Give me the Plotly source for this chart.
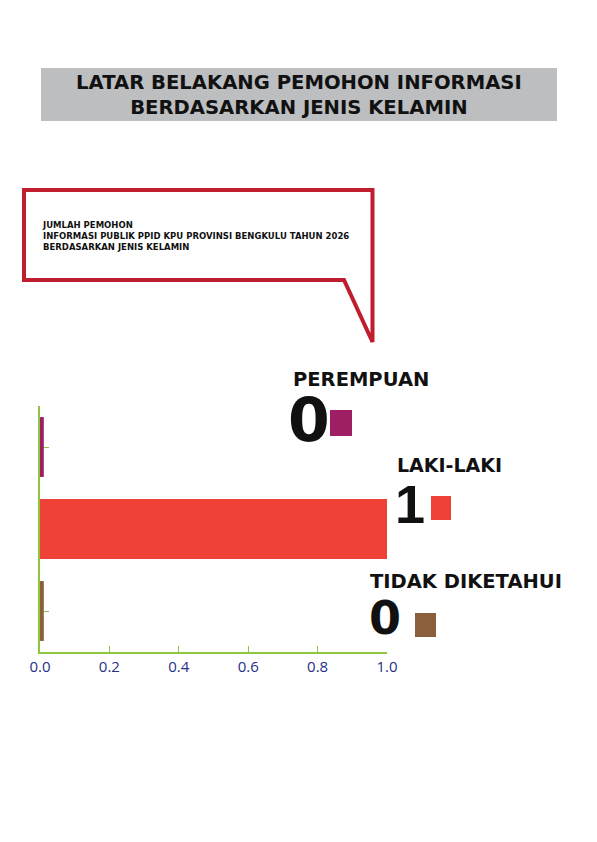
import plotly.graph_objects as go

# ---- data ----
categories = ["PEREMPUAN", "LAKI-LAKI", "TIDAK DIKETAHUI"]
values = [0, 1, 0]
colors = ["#9E1F63", "#EF4136", "#8B5E3C"]
tick_vals = [0.0, 0.2, 0.4, 0.6, 0.8, 1.0]
title_lines = ["LATAR BELAKANG PEMOHON INFORMASI", "BERDASARKAN JENIS KELAMIN"]
box_lines = ["JUMLAH PEMOHON",
             "INFORMASI PUBLIK PPID KPU PROVINSI BENGKULU TAHUN 2026",
             "BERDASARKAN JENIS KELAMIN"]

W, H = 597, 842
OFF = 8  # page body margin
L, R, T, B = 40, 387, 406, 652  # plot area in screenshot pixels


def X(px):
    return (px - L) / (R - L)


def Y(py):
    return (B - py) / (B - T)


FONT = "DejaVu Sans"
min_vis = 0.011
disp = [max(v, min_vis) for v in values]

fig = go.Figure(go.Bar(
    y=categories, x=disp, orientation="h",
    marker=dict(color=colors, line=dict(width=0)),
    width=0.73, hoverinfo="skip",
))

fig.update_layout(
    width=W, height=H,
    margin=dict(l=L - OFF, r=W - (R - OFF), t=T - OFF, b=H - (B - OFF)),
    paper_bgcolor="white", plot_bgcolor="white",
    showlegend=False,
    xaxis=dict(range=[0, 1], tickvals=tick_vals, tickformat=".1f",
               showgrid=False, zeroline=False,
               showline=True, linecolor="#8DC63F", linewidth=1.5,
               ticks="inside", ticklen=6, tickcolor="#8DC63F", tickwidth=1.2,
               tickfont=dict(family="Open Sans", size=15, color="#262F86", weight=500),
               layer="below traces"),
    yaxis=dict(categoryorder="array", categoryarray=categories,
               range=[2.5, -0.5], showticklabels=False,
               showgrid=False, zeroline=False,
               showline=True, linecolor="#8DC63F", linewidth=1.5,
               ticks="inside", ticklen=9, tickcolor="#8DC63F", tickwidth=1.2,
               layer="below traces"),
)

shapes = []
# title box
shapes.append(dict(type="rect", xref="paper", yref="paper",
                   x0=X(41), x1=X(557), y0=Y(68), y1=Y(121),
                   fillcolor="#BCBEC0", line=dict(width=0), layer="below"))
# speech bubble
pts = [(24, 190), (372.5, 190), (372.5, 342), (344, 280), (24, 280)]
path = "M " + " L ".join(f"{X(a):.5f},{Y(b):.5f}" for a, b in pts) + " Z"
shapes.append(dict(type="path", xref="paper", yref="paper", path=path,
                   line=dict(color="#BE1E2D", width=4), fillcolor="rgba(0,0,0,0)"))

# colour squares next to numbers
squares = [(330, 352, 410, 436), (431, 451, 496, 520), (415, 436, 613, 637)]
for (x0, x1, y0, y1), c in zip(squares, colors):
    shapes.append(dict(type="rect", xref="paper", yref="paper",
                       x0=X(x0), x1=X(x1), y0=Y(y0), y1=Y(y1),
                       fillcolor=c, line=dict(width=0)))
fig.update_layout(shapes=shapes)

ann = []
ann.append(dict(xref="paper", yref="paper", x=X(299), y=Y(95),
                text="<br>".join(title_lines), showarrow=False,
                xanchor="center", yanchor="middle", align="center",
                font=dict(family=FONT, size=19.6, color="#111111", weight=700)))
ann.append(dict(xref="paper", yref="paper", x=X(40), y=Y(236),
                text="<br>".join(box_lines), showarrow=False,
                xanchor="left", yanchor="middle", align="left",
                font=dict(family=FONT, size=8.5, color="#111111", weight=700)))

# (label x, label y, label size, number x, number y, number size, number font)
labels = [(291, 379, 19.5, 286, 420, 60, FONT),
          (395, 465, 19, 393, 504, 54, "Liberation Sans"),
          (368, 581, 19.5, 367, 618, 46, FONT)]
for cat, v, (lx, ly, ls, nx, ny, ns, nf) in zip(categories, values, labels):
    ann.append(dict(xref="paper", yref="paper", x=X(lx), y=Y(ly), text=cat,
                    showarrow=False, xanchor="left", yanchor="middle",
                    font=dict(family=FONT, size=ls, color="#111111", weight=700)))
    ann.append(dict(xref="paper", yref="paper", x=X(nx), y=Y(ny), text=str(v),
                    showarrow=False, xanchor="left", yanchor="middle",
                    font=dict(family=nf, size=ns, color="#111111", weight=700)))
fig.update_layout(annotations=ann)

fig.write_html("out.html")
